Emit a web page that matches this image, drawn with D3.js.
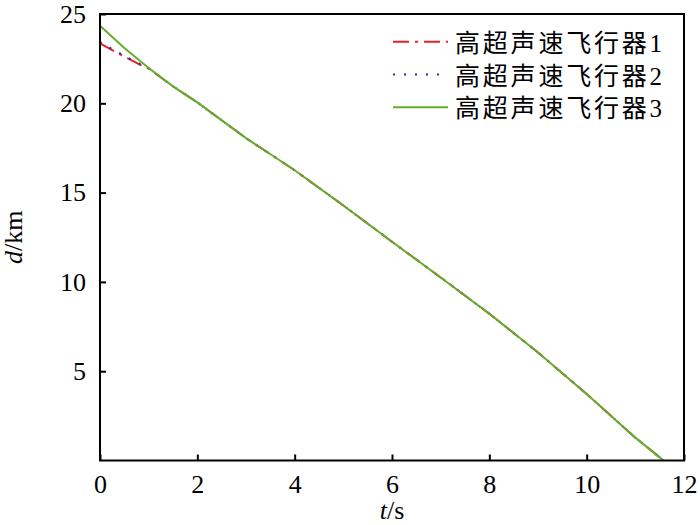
<!DOCTYPE html>
<html><head><meta charset="utf-8">
<script src="https://cdn.jsdelivr.net/npm/d3@7"></script>
<style>body{margin:0;background:#fff}svg{display:block}
.serif{font-family:"Liberation Serif","Times New Roman",Times,serif}
.leg{font-family:"Liberation Serif","Noto Sans CJK SC",serif}
</style>
</head><body>
<svg id="c" width="700" height="525"></svg>
<script>
// data
const tGreen = [0, 0.5, 1, 1.5, 2, 3, 4, 5, 6, 7, 8, 9, 10, 11, 11.58];
const dGreen = [24.34, 23.1, 21.98, 20.95, 20.05, 18.05, 16.25, 14.28, 12.25, 10.25, 8.22, 6.05, 3.72, 1.28, 0];
const tRed = [0, 0.27, 0.5, 0.89, 1.0, 1.5, 2, 3, 4, 5, 6, 7, 8, 9, 10, 11, 11.58];
const dRed = [23.36, 22.95, 22.62, 22.07, 21.95, 20.95, 20.05, 18.05, 16.25, 14.28, 12.25, 10.25, 8.22, 6.05, 3.72, 1.28, 0];
const tBlue = [0, 0.27, 0.5, 0.89, 1.0, 1.5, 2, 3, 4, 5, 6, 7, 8, 9, 10, 11, 11.58];
const dBlue = [23.42, 23.0, 22.66, 22.1, 21.96, 20.95, 20.05, 18.05, 16.25, 14.28, 12.25, 10.25, 8.22, 6.05, 3.72, 1.28, 0];
const seriesNames = ["高超声速飞行器1", "高超声速飞行器2", "高超声速飞行器3"];
const xTicks = [0, 2, 4, 6, 8, 10, 12];
const yTicks = [5, 10, 15, 20, 25];

const svg = d3.select("#c");
const L = 100, R = 684, T = 14, B = 460.5;
const x = d3.scaleLinear().domain([0, 12]).range([L, R]);
const y = d3.scaleLinear().domain([0, 25]).range([B, T]);

const series = [
  {t: tRed, d: dRed, color: "#e8202a", dash: "16,6,3,6", w: 2},
  {t: tBlue, d: dBlue, color: "#2a2ab0", dash: "2,9", w: 2},
  {t: tGreen, d: dGreen, color: "#64ad2c", dash: null, w: 2}
];
const line = d3.line().x(p => x(p[0])).y(p => y(p[1]));
series.forEach(s => {
  svg.append("path")
    .attr("d", line(s.t.map((v, i) => [v, s.d[i]])))
    .attr("fill", "none").attr("stroke", s.color)
    .attr("stroke-width", s.w)
    .attr("stroke-dasharray", s.dash);
});

// axes
const xAxis = d3.axisBottom(x).tickValues(xTicks).tickSizeInner(-6).tickSizeOuter(0).tickPadding(14).tickFormat(d3.format("d"));
const gx = svg.append("g").attr("transform", `translate(0,${B})`).call(xAxis);
const yAxis = d3.axisLeft(y).tickValues(yTicks).tickSizeInner(-6).tickSizeOuter(0).tickPadding(14).tickFormat(d3.format("d"));
const gy = svg.append("g").attr("transform", `translate(${L},0)`).call(yAxis);
[gx, gy].forEach(g => {
  g.attr("font-family", null).attr("font-size", null);
  g.select(".domain").remove();
  g.selectAll("line").attr("stroke", "#000").attr("stroke-width", 2);
  g.selectAll("text").attr("class", "serif").style("font-size", "26px").attr("fill", "#000");
});
gx.selectAll("text").attr("dy", "0.71em");
// box
svg.append("rect").attr("x", L).attr("y", T).attr("width", R - L).attr("height", B - T)
  .attr("fill", "none").attr("stroke", "#000").attr("stroke-width", 2);

// axis labels
const xl = svg.append("text").attr("class", "serif").attr("x", (L + R) / 2).attr("y", 519).attr("text-anchor", "middle")
  .style("font-size", "26px");
xl.append("tspan").attr("font-style", "italic").text("t");
xl.append("tspan").text("/s");
const yl = svg.append("text").attr("class", "serif").attr("transform", `translate(22,${(T + B) / 2}) rotate(-90)`).attr("text-anchor", "middle")
  .style("font-size", "26px");
yl.append("tspan").attr("font-style", "italic").text("d");
yl.append("tspan").text("/km");

// legend
const legY = [41.7, 74.5, 107.3];
series.forEach((s, i) => {
  svg.append("line").attr("x1", 393).attr("x2", 448).attr("y1", legY[i]).attr("y2", legY[i])
    .attr("stroke", s.color).attr("stroke-width", s.w).attr("stroke-dasharray", s.dash);
  svg.append("text").attr("class", "leg").attr("x", 455).attr("y", legY[i] + 10)
    .style("font-size", "25px").attr("letter-spacing", 2.8).text(seriesNames[i]);
});
</script>
</body></html>
